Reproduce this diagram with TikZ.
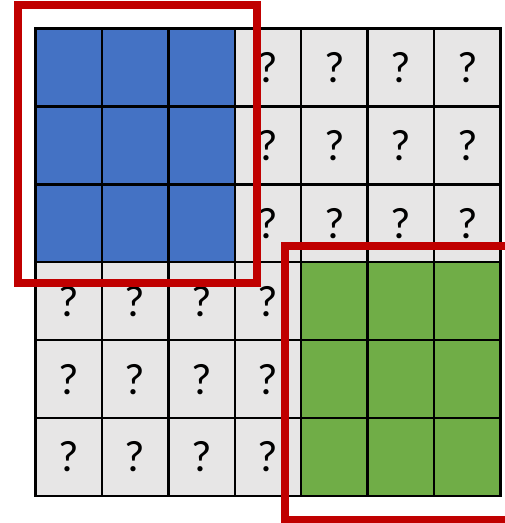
\documentclass[tikz,border=0pt]{standalone}
\usepackage{fontspec}
\setmainfont{Carlito}
\definecolor{cellblue}{HTML}{4472C4}
\definecolor{cellgreen}{HTML}{70AD47}
\definecolor{cellgray}{HTML}{E7E6E6}
\definecolor{boxred}{HTML}{C00000}
\tikzset{
  cell/.style={draw=black, line width=2.4pt, minimum width=66.43pt, minimum height=77.92pt, inner sep=0pt, outer sep=0pt, font=\fontsize{44}{44}\selectfont},
  qcell/.style={cell, fill=cellgray},
  bcell/.style={cell, fill=cellblue},
  gcell/.style={cell, fill=cellgreen},
  redbox/.style={draw=boxred, line width=8pt}
}
\begin{document}
\begin{tikzpicture}[x=1pt,y=-1pt]
\useasboundingbox (0,0) rectangle (505,523);
\clip (0,0) rectangle (505,523);
\foreach \i in {0,...,6}{
  \foreach \j in {0,...,5}{
    \pgfmathsetmacro{\cx}{35.5+66.43*(\i+0.5)}
    \pgfmathsetmacro{\cy}{28.5+77.92*(\j+0.5)}
    \ifnum\i<3 \ifnum\j<3
      \node[bcell] (c-\i-\j) at (\cx,\cy) {};
    \else
      \node[qcell] (c-\i-\j) at (\cx,\cy) {?};
    \fi
    \else
    \ifnum\i>3 \ifnum\j>2
      \node[gcell] (c-\i-\j) at (\cx,\cy) {};
    \else
      \node[qcell] (c-\i-\j) at (\cx,\cy) {?};
    \fi
    \else
      \node[qcell] (c-\i-\j) at (\cx,\cy) {?};
    \fi\fi
  }
}
\draw[redbox] (18,5) rectangle (257,283);
\draw[redbox] (284.5,246) rectangle (530,519.5);
\end{tikzpicture}
\end{document}
